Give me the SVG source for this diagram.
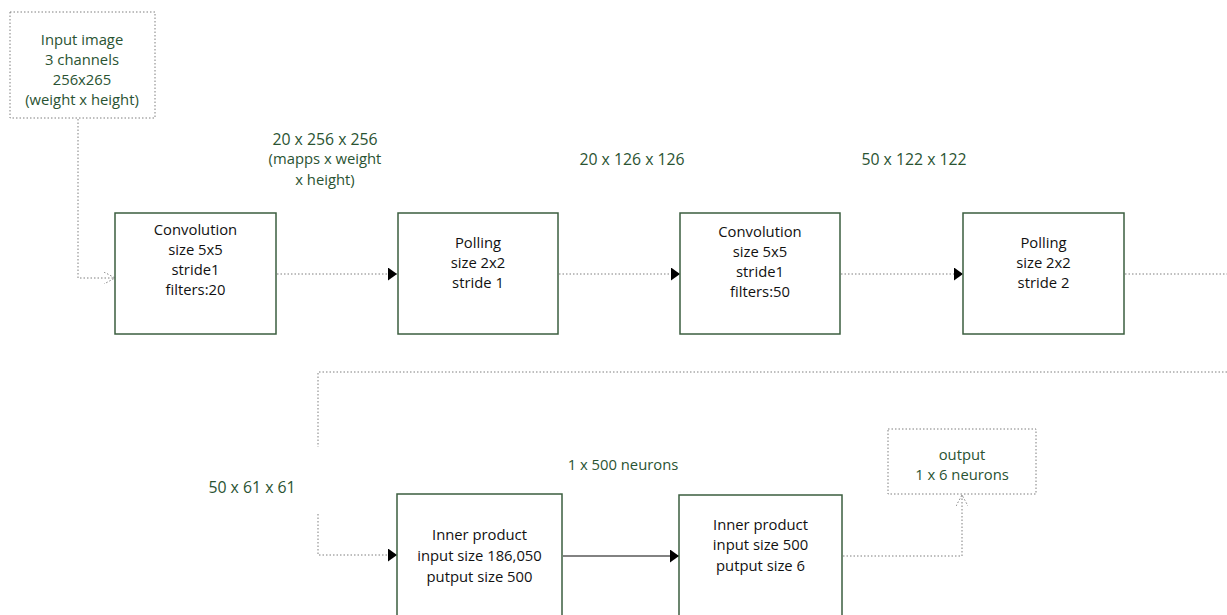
<svg xmlns="http://www.w3.org/2000/svg" width="1227" height="615" viewBox="0 0 1227 615">
<style>
.box{fill:#fff;stroke:#3b5e3f;stroke-width:1.5}
.dbox{fill:#fff;stroke:#7f7f7f;stroke-width:1;stroke-dasharray:1.5 2}
.t{font-family:"Open Sans","Liberation Sans",sans-serif;font-size:14.8px;fill:#111;text-anchor:middle}
.g{font-family:"Open Sans","Liberation Sans",sans-serif;font-size:14.8px;fill:#2a5332;text-anchor:middle}
.n{font-size:15.8px}
.dl{fill:none;stroke:#7f7f7f;stroke-width:1;stroke-dasharray:1.5 2}
.sl{fill:none;stroke:#595959;stroke-width:1.5}
</style>
<defs>
<marker id="fa" markerWidth="9" markerHeight="13" refX="9" refY="6.5" orient="auto" markerUnits="userSpaceOnUse">
<path d="M0,0 L9,6.5 L0,13 Z" fill="#000"/>
</marker>
<marker id="oa" markerWidth="12" markerHeight="12" refX="11" refY="6" orient="auto" markerUnits="userSpaceOnUse">
<path d="M0,0 L11,6 L0,12" fill="none" stroke="#7f7f7f" stroke-width="1" stroke-dasharray="1.5 2"/>
</marker>
</defs>
<g id="connectors">
<path class="dl" d="M78,119 V278 H115" marker-end="url(#oa)"/>
<path class="dl" d="M277,274 H397" marker-end="url(#fa)"/>
<path class="dl" d="M559,274 H680" marker-end="url(#fa)"/>
<path class="dl" d="M841,274 H963" marker-end="url(#fa)"/>
<path class="dl" d="M1125,274 H1227"/>
<path class="dl" d="M1227,372 H318 V447"/>
<path class="dl" d="M318,514 V555 H397" marker-end="url(#fa)"/>
<path class="sl" d="M563,556 H679" marker-end="url(#fa)"/>
<path class="dl" d="M843,556 H962 V495" marker-end="url(#oa)"/>
</g>
<g id="input">
<rect class="dbox" x="10" y="12" width="145" height="106"/>
<text class="g" x="82" y="45">Input image</text>
<text class="g" x="82" y="65">3 channels</text>
<text class="g" x="82" y="85">256x265</text>
<text class="g" x="82" y="105">(weight x height)</text>
</g>
<g id="conv1">
<rect class="box" x="115" y="213" width="161" height="121"/>
<text class="t" x="195.5" y="235">Convolution</text>
<text class="t" x="195.5" y="255">size 5x5</text>
<text class="t" x="195.5" y="275">stride1</text>
<text class="t" x="195.5" y="295">filters:20</text>
</g>
<g id="pool1">
<rect class="box" x="398" y="213" width="160" height="121"/>
<text class="t" x="478" y="248">Polling</text>
<text class="t" x="478" y="268">size 2x2</text>
<text class="t" x="478" y="288">stride 1</text>
</g>
<g id="conv2">
<rect class="box" x="680" y="213" width="160" height="121"/>
<text class="t" x="760" y="237">Convolution</text>
<text class="t" x="760" y="257">size 5x5</text>
<text class="t" x="760" y="277">stride1</text>
<text class="t" x="760" y="297">filters:50</text>
</g>
<g id="pool2">
<rect class="box" x="963" y="213" width="161" height="121"/>
<text class="t" x="1043.5" y="248">Polling</text>
<text class="t" x="1043.5" y="268">size 2x2</text>
<text class="t" x="1043.5" y="288">stride 2</text>
</g>
<g id="ip1">
<rect class="box" x="397" y="494" width="165" height="130"/>
<text class="t" x="479.5" y="540">Inner product</text>
<text class="t" x="479.5" y="561">input size 186,050</text>
<text class="t" x="479.5" y="582">putput size 500</text>
</g>
<g id="ip2">
<rect class="box" x="679" y="495" width="163" height="130"/>
<text class="t" x="760.5" y="530">Inner product</text>
<text class="t" x="760.5" y="550">input size 500</text>
<text class="t" x="760.5" y="571">putput size 6</text>
</g>
<g id="output">
<rect class="dbox" x="888" y="429" width="148" height="65"/>
<text class="g" x="962" y="460">output</text>
<text class="g" x="962" y="480">1 x 6 neurons</text>
</g>
<g id="labels">
<text class="g n" x="325" y="145">20 x 256 x 256</text>
<text class="g" x="325" y="164">(mapps x weight</text>
<text class="g" x="325" y="185">x height)</text>
<text class="g n" x="632" y="165">20 x 126 x 126</text>
<text class="g n" x="914" y="165">50 x 122 x 122</text>
<text class="g n" x="252" y="493">50 x 61 x 61</text>
<text class="g" x="623" y="470">1 x 500 neurons</text>
</g>
</svg>
